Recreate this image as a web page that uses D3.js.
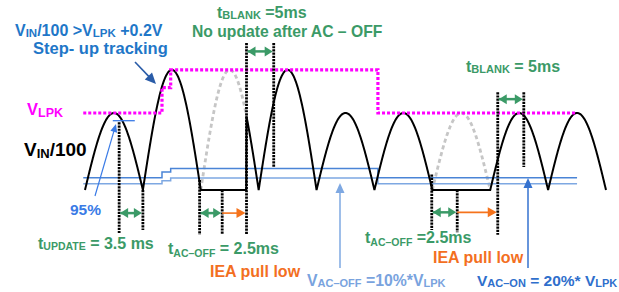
<!DOCTYPE html>
<html>
<head>
<meta charset="utf-8">
<script src="https://cdn.jsdelivr.net/npm/d3@7"></script>
<style>
  body { margin: 0; background: #fff; }
  text { font-family: "Liberation Sans", Arial, sans-serif; font-weight: bold; }
</style>
</head>
<body>
<div id="wrap"></div>
<script>
// half cycles of VIN/100 (10 ms each), peak normalised to first VLPK
var halfPeriod = 10;
var cyclePeak = [1.0, 1.56, 1.56, 1.56, 1.0, 1.0, 1.0, 1.0, 1.0];
// AC dropped out: input held low, ghost of the missing half cycle in gray
var acOffStart = [20, 60];
var acOffEnd = [27.9, 70];

// VLPK staircase (ms, level)
var vlpkT = [-0.3, 13.3, 14.8, 50.6, 85];
var vlpkV = [1.0, 1.33, 1.56, 1.0, 1.0];
// thresholds follow VLPK
var acOnV = [0.16, 0.235, 0.28, 0.16, 0.16];
var acOffV = [0.08, 0.12, 0.155, 0.08, 0.08];

// vertical timing markers
var markT   = [5.9, 10, 19.8, 23.7, 27.9, 32.6, 59.9, 64.3, 71.3, 75.8];
var markTop = [0.88, 0, 0.13, 0, 1.91, 1.91, 0.2, 0, 1.27, 1.27];
var markBot = [-0.56, -0.52, -0.58, -0.58, -0.58, 0.29, -0.52, -0.55, -0.58, 0.3];

// green double arrows [t1, t2, level]
var greenArrows = [[5.9, 10, -0.3], [19.8, 23.7, -0.3], [59.9, 64.3, -0.29], [27.9, 32.6, 1.8], [71.3, 75.8, 1.18]];
// orange "IEA pull low" arrows
var orangeArrows = [[23.7, 27.9, -0.3], [64.3, 71.3, -0.29]];

var width = 619, height = 292;

var svg = d3.select('#wrap').append('svg')
  .attr('width', width).attr('height', height);

var x = d3.scaleLinear().domain([0, 90]).range([85, 606]),
    y = d3.scaleLinear().domain([0, 1]).range([190, 113]);

function vin(t) {
  var i = Math.max(0, Math.min(Math.floor(t / halfPeriod), cyclePeak.length - 1));
  return cyclePeak[i] * Math.abs(Math.sin(Math.PI * t / halfPeriod));
}
function isOff(t) {
  for (var k = 0; k < acOffStart.length; k++) {
    if (t > acOffStart[k] && t < acOffEnd[k]) return true;
  }
  return false;
}

var line = d3.line().x(function(d){return x(d[0]);}).y(function(d){return y(d[1]);});

// ghost half cycles
acOffStart.forEach(function(s, k) {
  var pts = [];
  for (var t = s; t <= acOffEnd[k] + 1e-6; t += 0.1) pts.push([t, vin(t)]);
  svg.append('path').attr('d', line(pts))
    .attr('fill', 'none').attr('stroke', '#c6c6c6')
    .attr('stroke-width', 2.8).attr('stroke-dasharray', '4,3');
});

// threshold lines
var stepLine = d3.line().curve(d3.curveStepAfter)
  .x(function(d){return x(d[0]);}).y(function(d){return y(d[1]);});
svg.append('path').attr('d', stepLine(vlpkT.map(function(t, i){return [t, acOffV[i]];})))
  .attr('fill', 'none').attr('stroke', '#7ea8e2').attr('stroke-width', 1.5);
svg.append('path').attr('d', stepLine(vlpkT.map(function(t, i){return [t, acOnV[i]];})))
  .attr('fill', 'none').attr('stroke', '#4a84d6').attr('stroke-width', 1.5);

// VIN/100 waveform
var wave = [];
for (var t = 0; t <= 90 + 1e-6; t += 0.05) {
  t = Math.round(t * 100) / 100;
  wave.push([t, isOff(t) ? 0 : vin(t)]);
  acOffEnd.forEach(function(e){
    if (Math.abs(t - Math.round(e * 20) / 20) < 1e-6) { wave.push([e, vin(e)]); }
  });
}
svg.append('path').attr('d', line(wave))
  .attr('fill', 'none').attr('stroke', '#000').attr('stroke-width', 2);

// VLPK
svg.append('path').attr('d', stepLine(vlpkT.map(function(t, i){return [t, vlpkV[i]];})))
  .attr('fill', 'none').attr('stroke', '#ff00ff').attr('stroke-width', 3.2)
  .attr('stroke-dasharray', '3,2');

// timing markers
svg.selectAll('.mark').data(markT).enter().append('line')
  .attr('class', 'mark')
  .attr('x1', function(d){return x(d);}).attr('x2', function(d){return x(d);})
  .attr('y1', function(d, i){return y(markTop[i]);})
  .attr('y2', function(d, i){return y(markBot[i]);})
  .attr('stroke', '#000').attr('stroke-width', 2.8).attr('stroke-dasharray', '2.2,1');

// arrow helper: line with filled triangle head(s)
function arrow(x1, y1, x2, y2, color, w, headL, headW, both) {
  var a = Math.atan2(y2 - y1, x2 - x1);
  function head(px, py, ang) {
    var bx = px - headL * Math.cos(ang), by = py - headL * Math.sin(ang);
    var nx = -Math.sin(ang) * headW / 2, ny = Math.cos(ang) * headW / 2;
    svg.append('path')
      .attr('d', 'M' + px + ',' + py + 'L' + (bx + nx) + ',' + (by + ny) + 'L' + (bx - nx) + ',' + (by - ny) + 'Z')
      .attr('fill', color);
  }
  svg.append('line').attr('x1', x1).attr('y1', y1)
    .attr('x2', x2 - headL * 0.8 * Math.cos(a)).attr('y2', y2 - headL * 0.8 * Math.sin(a))
    .attr('stroke', color).attr('stroke-width', w);
  head(x2, y2, a);
  if (both) head(x1, y1, a + Math.PI);
}

greenArrows.forEach(function(d){
  arrow(x(d[0]) + 1, y(d[2]), x(d[1]) - 1, y(d[2]), '#3b9a67', 2.5, 8, 10, true);
});
orangeArrows.forEach(function(d){
  arrow(x(d[0]), y(d[2]), x(d[1]) - 1, y(d[2]), '#f5731c', 1.6, 9, 10, false);
});

// 95% marker
svg.append('line').attr('x1', x(4.8)).attr('x2', x(8.6)).attr('y1', y(0.9)).attr('y2', y(0.9))
  .attr('stroke', '#3a7be6').attr('stroke-width', 1.3);
arrow(95, 196, 116, 124, '#3a7be6', 1.2, 8, 7, false);

// step-up arrow
arrow(135, 62, 156, 84, '#2a5ca8', 1.6, 11, 10, false);
// threshold arrows
arrow(340, 268, 340, y(0.09), '#7ea8e2', 1.5, 10, 9, false);
arrow(528, 268, 528, y(0.155), '#3572cf', 1.5, 10, 9, false);

// rich text with subscripts
function rich(px, py, parts, size, color) {
  var txt = svg.append('text').attr('x', px).attr('y', py)
    .attr('fill', color).attr('font-size', size);
  var off = 0;
  parts.forEach(function(p){
    var s = txt.append('tspan').text(p[0]);
    var target = p[1] ? (p[2] || 2) : 0;
    s.attr('dy', target - off);
    off = target;
    if (p[1]) s.attr('font-size', p[1]);
  });
  return txt;
}

var blue = '#1f77c8', green = '#3b9a67', orange = '#f36f1f';
rich(15, 36, [['V'], ['IN', 11.5, 1], ['/100 >V'], ['LPK', 11.5, 1], [' +0.2V']], 16, blue);
rich(33, 54, [['Step- up tracking']], 16.5, blue);

rich(217, 18, [['t', ], ['BLANK', 11, 1], [' =5ms']], 16, green);
rich(192, 37, [['No update after AC – OFF']], 15.7, green);
rich(466, 72, [['t'], ['BLANK', 11, 1], [' = 5ms']], 16, green);

rich(27, 115, [['V'], ['LPK', 12.5, 2]], 16.5, '#ff00ff');
rich(24, 156, [['V'], ['IN', 13, 0], ['/100']], 19, '#000');

rich(70, 215, [['95%']], 15.5, '#3a7be6');

rich(38, 249, [['t'], ['UPDATE', 10.5, 1], [' = 3.5 ms']], 16, green);
rich(168, 254, [['t'], ['AC–OFF', 10.5, 3], [' = 2.5ms']], 16, green);
rich(210, 277, [['IEA pull low']], 16, orange);

rich(365, 243, [['t'], ['AC–OFF', 10.5, 3], [' =2.5ms']], 16, green);
rich(433, 263, [['IEA pull low']], 16, orange);

rich(307, 286, [['V'], ['AC–OFF', 11, 1], [' =10%*V'], ['LPK', 11, 1]], 15.8, '#79a3de');
rich(477, 286, [['V'], ['AC–ON', 11, 1], [' = 20%* V'], ['LPK', 11, 1]], 15.5, '#2f6fcc');
</script>
</body>
</html>
